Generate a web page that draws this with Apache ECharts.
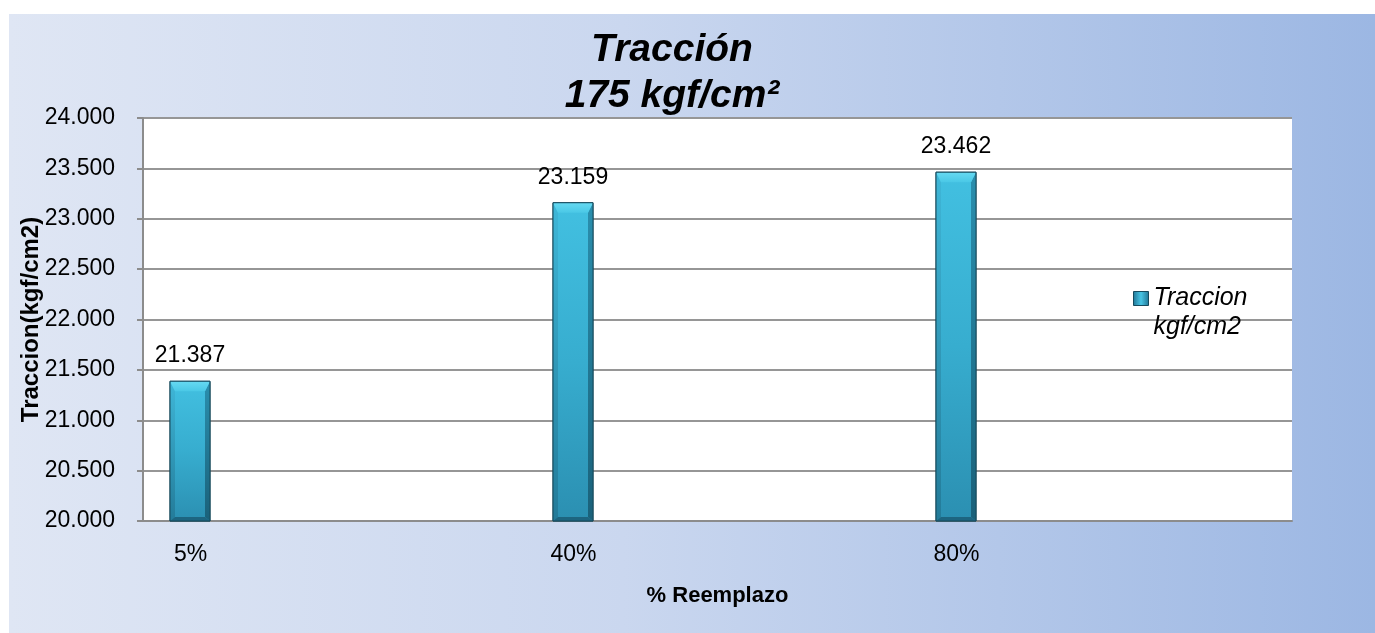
<!DOCTYPE html>
<html>
<head>
<meta charset="utf-8">
<title>Tracción 175 kgf/cm²</title>
<script src="https://cdn.jsdelivr.net/npm/echarts@6/dist/echarts.min.js"></script>
<style>
  html, body { margin: 0; padding: 0; background: #ffffff; }
  #chart { width: 1375px; height: 633px; }
</style>
</head>
<body>
<div id="chart"></div>
<script>
// Categories (% replacement) and tensile strength values
const categories = ['5%', '40%', '80%'];
const traccion = [21.387, 23.159, 23.462];
const seriesName = 'Traccion kgf/cm2';

// Value axis range
const Y_MIN = 20;
const Y_MAX = 24;
const Y_STEP = 0.5;

// Bar sits near the left of each category band
const BAR_FRAC = 40 / 383;    // bar width as share of the band
const BAR_OFFSET = 47 / 383;  // bar centre as share of the band
const LABEL_SHIFT = 144;      // moves the category label under the bar

const FONT = '"Liberation Sans", Arial, sans-serif';

const chart = echarts.init(document.getElementById('chart'), null, { renderer: 'canvas' });

function lin(x2, y2, stops) {
  return new echarts.graphic.LinearGradient(0, 0, x2, y2,
    stops.map((c) => ({ offset: c[0], color: c[1] })));
}

// Beveled bar drawn from the axis scales
function renderItem(params, api) {
  const i = api.value(0);
  const v = api.value(1);
  const top = api.coord([i, v]);
  const base = api.coord([i, Y_MIN]);
  const band = api.size([1, 0])[0];
  const w = band * BAR_FRAC;
  const cx = top[0] - band / 2 + band * BAR_OFFSET;
  const x0 = cx - w / 2, x1 = cx + w / 2;
  const y0 = top[1], yb = base[1];
  const s = 5, t = 10, b = 4;

  return {
    type: 'group',
    children: [
      { // main face
        type: 'rect',
        shape: { x: x0, y: y0, width: w, height: yb - y0 },
        style: {
          fill: lin(0, 1, [[0, '#42c0e1'], [0.5, '#37adcf'], [1, '#2b8fb1']]),
          stroke: '#164a5d', lineWidth: 1
        }
      },
      { // left bevel
        type: 'polygon',
        shape: { points: [[x0, y0], [x0 + s, y0 + t], [x0 + s, yb - b], [x0, yb]] },
        style: { fill: lin(0, 1, [[0, '#3fb7d8'], [1, '#237b99']]) }
      },
      { // right bevel
        type: 'polygon',
        shape: { points: [[x1, y0], [x1 - s, y0 + t], [x1 - s, yb - b], [x1, yb]] },
        style: { fill: lin(0, 1, [[0, '#2a8fae'], [1, '#1a617a']]) }
      },
      { // bottom bevel
        type: 'polygon',
        shape: { points: [[x0, yb], [x0 + s, yb - b], [x1 - s, yb - b], [x1, yb]] },
        style: { fill: '#1d6580' }
      },
      { // top bevel
        type: 'polygon',
        shape: { points: [[x0, y0], [x1, y0], [x1 - s, y0 + t], [x0 + s, y0 + t]] },
        style: { fill: lin(0, 1, [[0, '#66daf2'], [1, '#4ac8e6']]) }
      },
      { // outline
        type: 'rect',
        shape: { x: x0, y: y0, width: w, height: yb - y0 },
        style: { fill: 'none', stroke: '#164a5d', lineWidth: 1 }
      },
      { // value label
        type: 'text',
        style: {
          text: v.toFixed(3),
          x: cx, y: y0 - 14,
          align: 'center', verticalAlign: 'bottom',
          font: '23px ' + FONT,
          fill: '#000000'
        }
      }
    ]
  };
}

const option = {
  backgroundColor: 'transparent',
  animation: false,
  graphic: [
    {
      type: 'rect',
      z: -10,
      shape: { x: 9, y: 14, width: 1366, height: 619 },
      style: {
        fill: lin(1, 0, [[0, '#dfe6f4'], [0.45, '#cad7ef'], [1, '#9cb7e3']])
      },
      silent: true
    }
  ],
  title: {
    text: 'Tracción\n175 kgf/cm²',
    left: 667,
    top: 22,
    textAlign: 'center',
    textStyle: {
      fontFamily: FONT,
      fontSize: 39,
      fontWeight: 'bold',
      fontStyle: 'italic',
      color: '#000000',
      lineHeight: 46
    }
  },
  legend: {
    orient: 'vertical',
    left: 1133,
    top: 255,
    padding: 0,
    itemWidth: 15,
    itemHeight: 14,
    itemGap: 0,
    data: [{
      name: seriesName,
      icon: 'rect',
      itemStyle: {
        color: lin(1, 0, [[0, '#1f7393'], [0.5, '#47c5e5'], [1, '#1f7393']]),
        borderColor: '#164a5d',
        borderWidth: 1
      }
    }],
    // blank first line keeps the marker level with "Traccion"
    formatter: () => ' \nTraccion\nkgf/cm2',
    textStyle: {
      fontFamily: FONT,
      fontSize: 25,
      fontStyle: 'italic',
      color: '#000000',
      lineHeight: 29
    }
  },
  grid: {
    left: 143,
    right: 83,
    top: 118,
    bottom: 112,
    show: true,
    backgroundColor: '#ffffff',
    borderWidth: 0
  },
  xAxis: {
    type: 'category',
    data: categories,
    boundaryGap: true,
    name: '% Reemplazo',
    nameLocation: 'middle',
    nameGap: 64,
    nameMoveOverlap: false,
    nameTextStyle: {
      fontFamily: FONT,
      fontSize: 22,
      fontWeight: 'bold',
      color: '#000000'
    },
    axisLine: { show: true, lineStyle: { color: '#8c8c8c', width: 2 } },
    axisTick: { show: false },
    axisLabel: {
      margin: 22,
      fontFamily: FONT,
      fontSize: 23,
      color: '#000000',
      padding: [0, LABEL_SHIFT * 2, 0, 0]
    },
    splitLine: { show: false }
  },
  yAxis: {
    type: 'value',
    min: Y_MIN,
    max: Y_MAX,
    interval: Y_STEP,
    name: 'Traccion(kgf/cm2)',
    nameLocation: 'middle',
    nameGap: 100,
    nameMoveOverlap: false,
    nameTextStyle: {
      fontFamily: FONT,
      fontSize: 24,
      fontWeight: 'bold',
      color: '#000000'
    },
    axisLine: { show: true, lineStyle: { color: '#8c8c8c', width: 2 } },
    axisTick: { show: true, length: 6, lineStyle: { color: '#8c8c8c', width: 2 } },
    axisLabel: {
      margin: 28,
      fontFamily: FONT,
      fontSize: 23,
      color: '#000000',
      formatter: (val) => val.toFixed(3)
    },
    splitLine: { show: true, lineStyle: { color: '#969696', width: 2 } }
  },
  series: [
    {
      name: seriesName,
      type: 'custom',
      renderItem: renderItem,
      encode: { x: 0, y: 1 },
      data: traccion.map((v, i) => [i, v]),
      z: 5
    }
  ]
};

chart.setOption(option);
</script>
</body>
</html>
